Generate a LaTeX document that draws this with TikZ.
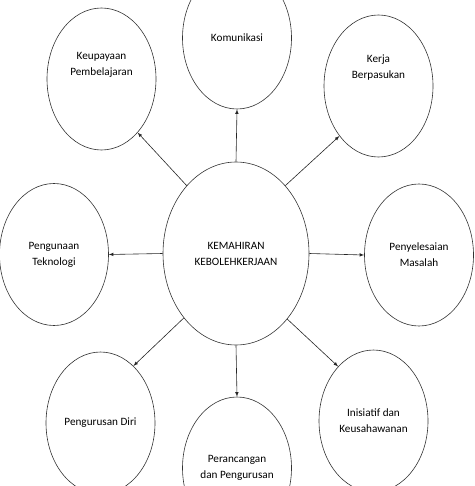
\documentclass[tikz,border=0pt]{standalone}
\usepackage{fontspec}
\setmainfont{Carlito}
\usetikzlibrary{shapes.geometric}
\begin{document}
\begin{tikzpicture}[x=1pt, y=1pt, >=latex,
    kotak/.style={ellipse, draw=black!80, line width=0.6pt, inner sep=0pt,
        minimum width=109pt, minimum height=142pt, align=center,
        font=\fontsize{11.2}{16}\selectfont},
    pusat/.style={kotak, minimum width=146pt, minimum height=183pt},
    anak/.style={->, line width=0.6pt, black!85}]
    % Giới hạn vùng hiển thị
    \useasboundingbox (0, 0) rectangle (474, -486);
    \clip (0, 0) rectangle (474, -486);

    % 1. Elip trung tâm
    \node[pusat] (kemahiran) at (236, -253.5) {KEMAHIRAN\\KEBOLEHKERJAAN};

    % 2. Các elip xung quanh
    \node[kotak] (komunikasi) at (237, -38) {Komunikasi};
    \node[kotak] (keupayaan) at (101.5, -79) {Keupayaan\\Pembelajaran\\[14pt]\mbox{}};
    \node[kotak] (kerja) at (378.5, -86) {Kerja\\Berpasukan\\[22pt]\mbox{}};
    \node[kotak] (teknologi) at (54, -254.5) {Pengunaan\\Teknologi};
    \node[kotak] (masalah) at (419, -255) {Penyelesaian\\Masalah};
    \node[kotak] (diri) at (100.5, -423) {Pengurusan Diri};
    \node[kotak] (perancangan) at (237, -468) {Perancangan\\dan Pengurusan};
    \node[kotak] (inisiatif) at (373.5, -421) {Inisiatif dan\\Keusahawanan};

    % 3. Mũi tên từ tâm ra ngoài
    \draw[anak] (kemahiran.north) -- (komunikasi.south);
    \draw[anak] (kemahiran.126) -- (keupayaan.-56);
    \draw[anak] (kemahiran.54) -- (kerja.232);
    \draw[anak] (kemahiran.west) -- (teknologi.east);
    \draw[anak] (kemahiran.east) -- (masalah.west);
    \draw[anak] (kemahiran.231) -- (diri.60);
    \draw[anak] (kemahiran.south) -- (perancangan.north);
    \draw[anak] (kemahiran.-52) -- (inisiatif.123);

\end{tikzpicture}
\end{document}
